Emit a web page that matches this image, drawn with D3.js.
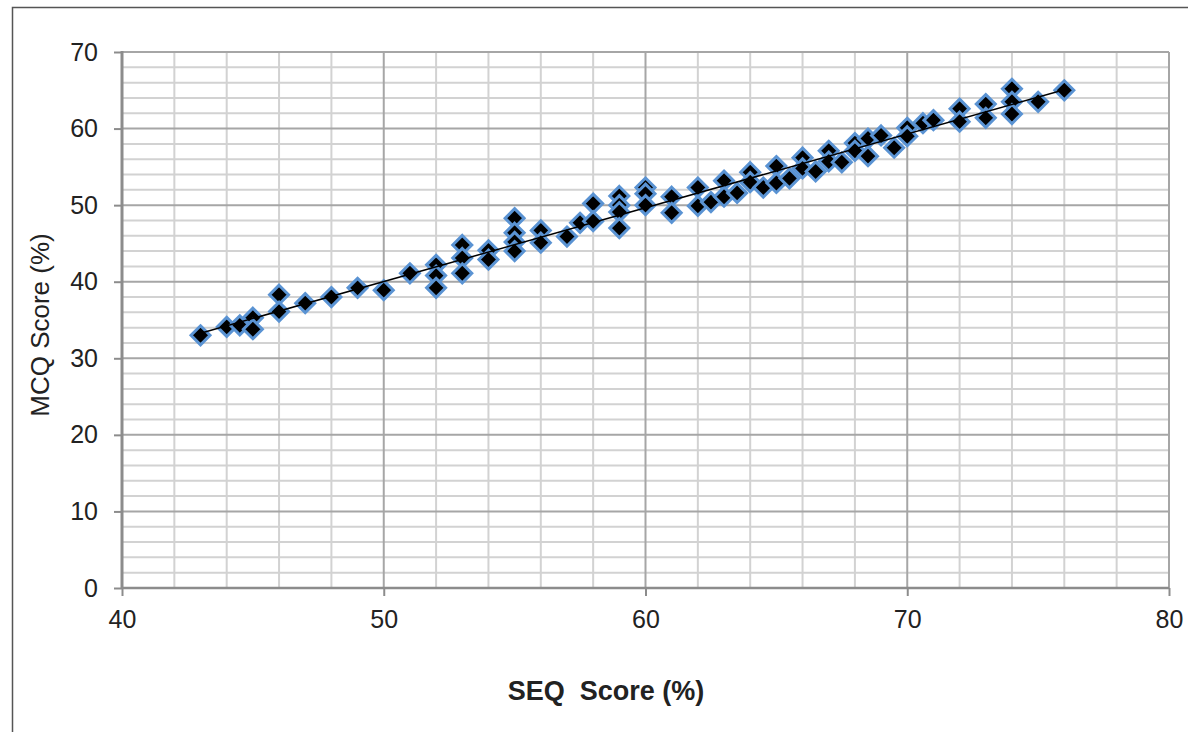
<!DOCTYPE html>
<html>
<head>
<meta charset="utf-8">
<script src="https://cdn.jsdelivr.net/npm/d3@7"></script>
<style>
  html, body { margin: 0; padding: 0; background: #fff; }
  svg { display: block; }
</style>
</head>
<body>
<svg id="chart" width="1188" height="732"></svg>
<script>
// SEQ score (%) values
const seqScores = [
  43, 44, 44.5, 45, 45, 46, 46, 47, 48, 49, 50, 51,
  52, 52, 52, 53, 53, 53, 54, 54, 55, 55, 55, 55,
  56, 56, 57, 57.5, 58, 58, 59, 59, 59, 59,
  60, 60, 60, 61, 61, 62, 62, 62.5, 63, 63, 63.5,
  64, 64, 64.5, 65, 65, 65.5, 66, 66, 66.5, 67, 67, 67.5,
  68, 68, 68.5, 68.5, 69, 69.5, 70, 70, 70.6, 71,
  72, 72, 73, 73, 74, 74, 74, 75, 76
];
// MCQ score (%) values
const mcqScores = [
  33, 34.1, 34.3, 35.3, 33.8, 38.3, 36.1, 37.2, 38, 39.2, 38.9, 41.1,
  42.2, 40.8, 39.2, 44.8, 43.1, 41.1, 44.1, 42.9, 48.3, 46.4, 45.2, 44,
  46.7, 45.1, 45.9, 47.7, 50.2, 47.9, 51.2, 50, 49.1, 47,
  52.3, 51.5, 50, 51.1, 49, 52.3, 49.9, 50.4, 53.2, 51.1, 51.6,
  54.3, 53, 52.3, 55.1, 52.9, 53.5, 56.2, 54.8, 54.4, 57.1, 55.7, 55.6,
  58.1, 57.1, 58.7, 56.4, 59.1, 57.5, 60.1, 59, 60.7, 61.1,
  62.6, 60.9, 63.2, 61.4, 65.2, 63.5, 61.9, 63.5, 65
];
const xTicks = [40, 50, 60, 70, 80];
const yTicks = [0, 10, 20, 30, 40, 50, 60, 70];
const xLabel = "SEQ  Score (%)";
const yLabel = "MCQ Score (%)";

const svg = d3.select("#chart");
const pLeft = 122, pRight = 1169, pTop = 52, pBottom = 588;
const font = "'Liberation Sans', Arial, sans-serif";

const x = d3.scaleLinear().domain([40, 80]).range([pLeft, pRight]);
const y = d3.scaleLinear().domain([0, 70]).range([pBottom, pTop]);

// outer frame
svg.append("path")
  .attr("d", `M12.5,740 L12.5,7.5 L1200,7.5`)
  .attr("fill", "none").attr("stroke", "#555").attr("stroke-width", 1.5);

// gridlines
const g = svg.append("g");
const minorX = d3.range(42, 81, 2).filter(v => v % 10 !== 0);
const minorY = d3.range(2, 71, 2).filter(v => v % 10 !== 0);
g.selectAll(".mx").data(minorX).enter().append("line")
  .attr("x1", d => x(d)).attr("x2", d => x(d)).attr("y1", pTop).attr("y2", pBottom)
  .attr("stroke", "#d2d2d2").attr("stroke-width", 2);
g.selectAll(".my").data(minorY).enter().append("line")
  .attr("y1", d => y(d)).attr("y2", d => y(d)).attr("x1", pLeft).attr("x2", pRight)
  .attr("stroke", "#d2d2d2").attr("stroke-width", 2);
g.selectAll(".Mx").data(xTicks.slice(1)).enter().append("line")
  .attr("x1", d => x(d)).attr("x2", d => x(d)).attr("y1", pTop).attr("y2", pBottom)
  .attr("stroke", "#a6a6a6").attr("stroke-width", 2);
g.selectAll(".My").data(yTicks.slice(1)).enter().append("line")
  .attr("y1", d => y(d)).attr("y2", d => y(d)).attr("x1", pLeft).attr("x2", pRight)
  .attr("stroke", "#a6a6a6").attr("stroke-width", 2);

// axes
const yAxis = d3.axisLeft(y).tickValues(yTicks).tickSize(8).tickPadding(16);
const xAxis = d3.axisBottom(x).tickValues(xTicks).tickSize(8).tickPadding(14);

const ya = svg.append("g").attr("transform", `translate(${pLeft},0)`).call(yAxis);
const xa = svg.append("g").attr("transform", `translate(0,${pBottom})`).call(xAxis);
[ya, xa].forEach(a => {
  a.select(".domain").remove();
  a.selectAll(".tick line").attr("stroke", "#8c8c8c").attr("stroke-width", 2);
  a.selectAll(".tick text").attr("fill", "#222")
    .style("font-family", font).style("font-size", "25px");
});
svg.append("line").attr("x1", pLeft).attr("x2", pRight).attr("y1", pBottom).attr("y2", pBottom)
  .attr("stroke", "#8c8c8c").attr("stroke-width", 2.5);
svg.append("line").attr("x1", pLeft).attr("x2", pLeft).attr("y1", pTop - 1).attr("y2", pBottom + 1)
  .attr("stroke", "#8c8c8c").attr("stroke-width", 3);

// points
const pts = seqScores.map((s, i) => ({ s, m: mcqScores[i] }));
const h = 9.5;
const diamond = `M0,${-h}L${h},0L0,${h}L${-h},0Z`;
svg.append("g").selectAll("path").data(pts).enter().append("path")
  .attr("d", diamond)
  .attr("transform", d => `translate(${x(d.s)},${y(d.m)})`)
  .attr("fill", "#000").attr("stroke", "#5a93d3").attr("stroke-width", 3)
  .attr("stroke-linejoin", "miter");

// linear trendline (least squares)
const mx = d3.mean(seqScores), my = d3.mean(mcqScores);
const slope = d3.sum(seqScores, (v, i) => (v - mx) * (mcqScores[i] - my)) /
              d3.sum(seqScores, v => (v - mx) * (v - mx));
const icpt = my - slope * mx;
const [x0, x1] = d3.extent(seqScores);
svg.append("line")
  .attr("x1", x(x0)).attr("y1", y(icpt + slope * x0))
  .attr("x2", x(x1)).attr("y2", y(icpt + slope * x1))
  .attr("stroke", "#000").attr("stroke-width", 1.5);

// axis titles
svg.append("text").attr("x", 606).attr("y", 700).attr("text-anchor", "middle")
  .style("font-family", font).style("font-size", "27px")
  .style("font-weight", "bold").attr("fill", "#222").style("white-space", "pre").text(xLabel);
svg.append("text").attr("transform", "translate(49,325) rotate(-90)").attr("text-anchor", "middle")
  .style("font-family", font).style("font-size", "26px")
  .attr("fill", "#222").text(yLabel);
</script>
</body>
</html>
